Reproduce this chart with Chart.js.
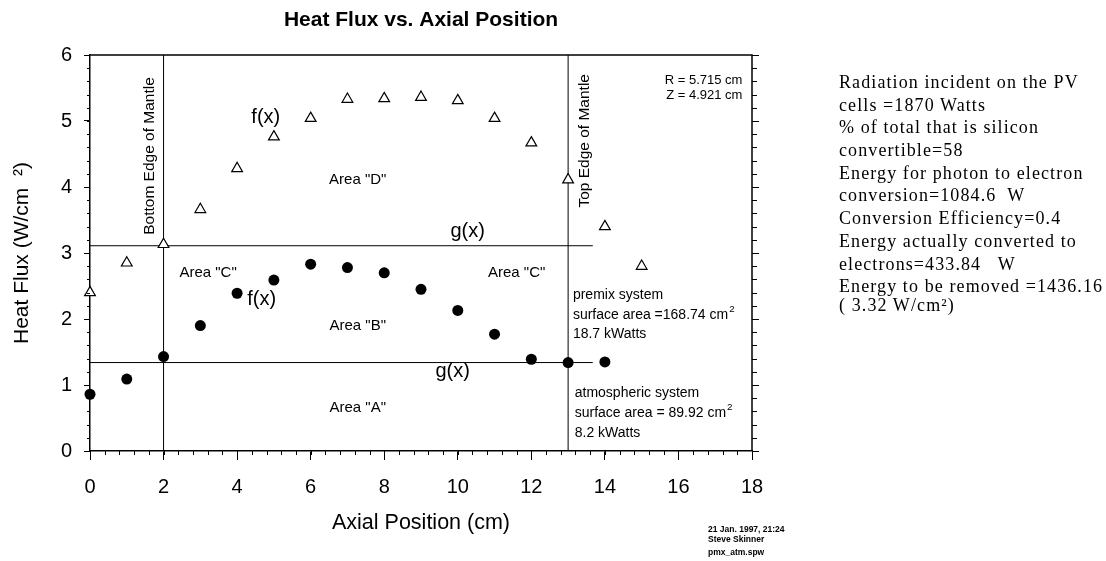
<!DOCTYPE html>
<html>
<head>
<meta charset="utf-8">
<script src="https://cdn.jsdelivr.net/npm/chart.js@4.4.1/dist/chart.umd.min.js"></script>
<style>
  html, body { margin: 0; padding: 0; background: #fff; }
  #wrap { position: relative; width: 1106px; height: 561px; overflow: hidden; }
  #c { position: absolute; left: 0; top: 0; }
  #notes { position: absolute; left: 839px; top: 71px; font-family: "Liberation Serif", "Times New Roman", serif; font-size: 18px; letter-spacing: 1.1px; color: #000; }
  #notes div { line-height: 22.7px; height: 22.7px; white-space: pre; }
  #credits { position: absolute; left: 708px; top: 524px; font-family: "Liberation Sans", Arial, sans-serif; font-size: 8.5px; font-weight: bold; color: #000; }
  #credits div { line-height: 10px; white-space: pre; }
</style>
</head>
<body>
<div id="wrap">
  <canvas id="c" width="1106" height="561"></canvas>
  <div id="notes">
    <div>Radiation incident on the PV</div>
    <div>cells =1870 Watts</div>
    <div>% of total that is silicon</div>
    <div>convertible=58</div>
    <div>Energy for photon to electron</div>
    <div>conversion=1084.6  W</div>
    <div>Conversion Efficiency=0.4</div>
    <div>Energy actually converted to</div>
    <div>electrons=433.84   W</div>
    <div>Energy to be removed =1436.16</div>
    <div style="margin-top:-4px">( 3.32 W/cm²)</div>
  </div>
  <div id="credits">
    <div>21 Jan. 1997, 21:24</div>
    <div>Steve Skinner</div>
    <div style="margin-top:3px">pmx_atm.spw</div>
  </div>
</div>
<script>
// ---- data ----
const premixPositions = [0, 1, 2, 3, 4, 5, 6, 7, 8, 9, 10, 11, 12, 13, 14, 15];
const premixFlux = [2.40, 2.85, 3.13, 3.66, 4.28, 4.76, 5.04, 5.33, 5.34, 5.36, 5.31, 5.04, 4.67, 4.11, 3.40, 2.80];
const atmPositions = [0, 1, 2, 3, 4, 5, 6, 7, 8, 9, 10, 11, 12, 13, 14];
const atmFlux = [0.86, 1.09, 1.43, 1.90, 2.39, 2.59, 2.83, 2.78, 2.70, 2.45, 2.13, 1.77, 1.39, 1.34, 1.35];
const gLevels = [3.11, 1.34];          // average flux levels g(x)
const gRange = [0, 13.67];             // x extent of g(x) lines
const mantleEdges = [2, 13];           // bottom / top edge of mantle (cm)
const xRange = [0, 18];
const yRange = [0, 6];

const FONT = '"Liberation Sans", Arial, sans-serif';

const toPts = (xs, ys) => xs.map((x, i) => ({ x: x, y: ys[i] }));

const lineDs = (pts) => ({
  type: 'line', data: pts, showLine: true, borderColor: '#000', borderWidth: 1,
  pointRadius: 0, fill: false, clip: false, order: 2
});

// annotation texts (data coordinates)
const annotations = [
  { t: 'Bottom Edge of Mantle', x: 1.63, y: 4.47, size: 15.5, rot: -Math.PI / 2, align: 'center' },
  { t: 'Top Edge of Mantle', x: 13.45, y: 4.70, size: 15.5, rot: -Math.PI / 2, align: 'center' },
  { t: 'f(x)', x: 4.78, y: 5.06, size: 20, align: 'center' },
  { t: 'Area "D"', x: 7.28, y: 4.11, size: 15, align: 'center' },
  { t: 'g(x)', x: 10.27, y: 3.32, size: 20, align: 'center' },
  { t: 'Area "C"', x: 3.21, y: 2.70, size: 15, align: 'center' },
  { t: 'Area "C"', x: 11.6, y: 2.70, size: 15, align: 'center' },
  { t: 'f(x)', x: 4.67, y: 2.29, size: 20, align: 'center' },
  { t: 'Area "B"', x: 7.28, y: 1.89, size: 15, align: 'center' },
  { t: 'g(x)', x: 9.86, y: 1.20, size: 20, align: 'center' },
  { t: 'Area "A"', x: 7.28, y: 0.65, size: 15, align: 'center' },
  { t: 'premix system', x: 13.13, y: 2.36, size: 14, align: 'left' },
  { t: 'surface area =168.74 cm', sup: '2', x: 13.13, y: 2.06, size: 14, align: 'left' },
  { t: '18.7 kWatts', x: 13.13, y: 1.77, size: 14, align: 'left' },
  { t: 'atmospheric system', x: 13.18, y: 0.88, size: 14, align: 'left' },
  { t: 'surface area = 89.92 cm', sup: '2', x: 13.18, y: 0.58, size: 14, align: 'left' },
  { t: '8.2 kWatts', x: 13.18, y: 0.27, size: 14, align: 'left' },
  { t: 'R = 5.715 cm', x: 17.74, y: 5.62, size: 13, align: 'right' },
  { t: 'Z = 4.921 cm', x: 17.74, y: 5.39, size: 13, align: 'right' }
];

const decorPlugin = {
  id: 'decor',
  afterDraw(chart) {
    const { ctx, chartArea: a, scales: { x, y } } = chart;
    ctx.save();
    // frame top & right
    ctx.strokeStyle = '#000';
    ctx.lineWidth = 1.5;
    ctx.beginPath();
    ctx.moveTo(a.left, a.top); ctx.lineTo(a.right, a.top); ctx.lineTo(a.right, a.bottom);
    ctx.stroke();
    // minor ticks
    ctx.lineWidth = 1;
    ctx.beginPath();
    for (let v = 0; v <= 18.001; v += 0.4) {
      const px = Math.round(x.getPixelForValue(v)) + 0.5;
      ctx.moveTo(px, a.bottom); ctx.lineTo(px, a.bottom + 4);
    }
    for (let v = 0; v <= 6.001; v += 0.2) {
      const py = Math.round(y.getPixelForValue(v)) + 0.5;
      ctx.moveTo(a.left - 3, py); ctx.lineTo(a.left, py);
      const major = Math.abs(v - Math.round(v)) < 0.01;
      ctx.moveTo(a.right, py); ctx.lineTo(a.right + (major ? 7 : 5), py);
    }
    ctx.stroke();
    // annotations
    ctx.fillStyle = '#000';
    ctx.textBaseline = 'middle';
    annotations.forEach(n => {
      ctx.save();
      ctx.font = n.size + 'px ' + FONT;
      ctx.textAlign = n.align;
      ctx.translate(x.getPixelForValue(n.x), y.getPixelForValue(n.y));
      if (n.rot) ctx.rotate(n.rot);
      ctx.fillText(n.t, 0, 0);
      if (n.sup) {
        const w = ctx.measureText(n.t).width;
        ctx.font = (n.size * 0.7) + 'px ' + FONT;
        ctx.textAlign = 'left';
        ctx.fillText(n.sup, w + 1, -n.size * 0.4);
      }
      ctx.restore();
    });
    ctx.restore();
  }
};

new Chart(document.getElementById('c'), {
  type: 'scatter',
  data: {
    datasets: [
      lineDs([{ x: gRange[0], y: gLevels[0] }, { x: gRange[1], y: gLevels[0] }]),
      lineDs([{ x: gRange[0], y: gLevels[1] }, { x: gRange[1], y: gLevels[1] }]),
      lineDs([{ x: mantleEdges[0], y: yRange[0] }, { x: mantleEdges[0], y: yRange[1] }]),
      lineDs([{ x: mantleEdges[1], y: yRange[0] }, { x: mantleEdges[1], y: yRange[1] }]),
      {
        label: 'premix', data: toPts(premixPositions, premixFlux),
        pointStyle: 'triangle', pointRadius: 6.2, pointBackgroundColor: '#fff',
        pointBorderColor: '#000', pointBorderWidth: 1.2, clip: false, order: 1
      },
      {
        label: 'atmospheric', data: toPts(atmPositions, atmFlux),
        pointStyle: 'circle', pointRadius: 5.5, pointBackgroundColor: '#000',
        pointBorderColor: '#000', pointBorderWidth: 0, clip: false, order: 1
      }
    ]
  },
  options: {
    responsive: false,
    animation: false,
    devicePixelRatio: 1,
    layout: { padding: { left: 0, right: 354, top: 0, bottom: 0 } },
    plugins: {
      legend: { display: false },
      tooltip: { enabled: false },
      title: {
        display: true, text: 'Heat Flux vs. Axial Position', fullSize: false,
        color: '#000', font: { family: FONT, size: 21, weight: 'bold' },
        padding: { top: 7.4, bottom: 22.4 }
      }
    },
    scales: {
      x: {
        type: 'linear', min: xRange[0], max: xRange[1],
        afterFit: s => { s.height = 110; },
        ticks: { stepSize: 2, color: '#000', font: { family: FONT, size: 20 }, padding: 15, maxRotation: 0 },
        grid: { drawOnChartArea: false, tickLength: 9, color: '#000', tickColor: '#000', tickWidth: 1 },
        border: { color: '#000', width: 1.5 },
        title: { display: true, text: 'Axial Position (cm)', color: '#000', font: { family: FONT, size: 21.5 }, padding: { top: 0, bottom: 25 } }
      },
      y: {
        type: 'linear', min: yRange[0], max: yRange[1],
        afterFit: s => { s.width = 90; },
        ticks: { stepSize: 1, color: '#000', font: { family: FONT, size: 20 }, padding: 12 },
        grid: { drawOnChartArea: false, tickLength: 6, color: '#000', tickColor: '#000', tickWidth: 1 },
        border: { color: '#000', width: 1.5 },
        title: { display: true, text: 'Heat Flux (W/cm  ²)', color: '#000', font: { family: FONT, size: 21 }, padding: { top: 9.5, bottom: 0 } }
      }
    }
  },
  plugins: [decorPlugin]
});
</script>
</body>
</html>
